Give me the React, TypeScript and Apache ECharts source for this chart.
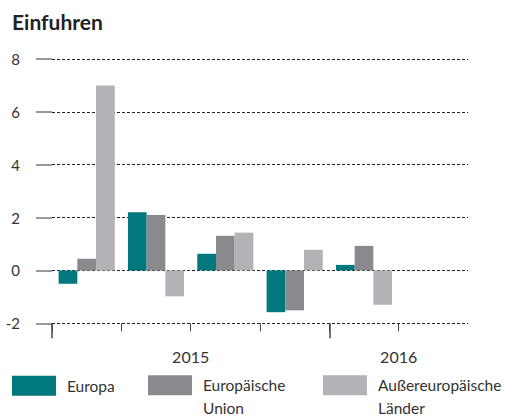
import React, { useEffect, useRef } from 'react';
import * as echarts from 'echarts';

const quarters = ['Q1 2015', 'Q2 2015', 'Q3 2015', 'Q4 2015', 'Q1 2016', 'Q2 2016'];
const boundaryLabels = ['', '', '2015', '', '', '2016', ''];
const yearStartBoundaries = [0, 4];
const europa = [-0.5, 2.2, 0.63, -1.58, 0.21, null];
const europaeischeUnion = [0.44, 2.1, 1.31, -1.51, 0.93, null];
const aussereuropaeisch = [7.0, -0.98, 1.43, 0.78, -1.3, null];
const seriesNames = ['Europa', 'Europäische Union', 'Außereuropäische Länder'];
const legendLabels = ['Europa', '\nEuropäische\nUnion', '\nAußereuropäische\nLänder'];
const colors = ['#00787E', '#898A8D', '#B2B3B6'];
const yMin = -2;
const yMax = 8;
const yInterval = 2;

const FONT = 'Lato, sans-serif';

export default function App() {
  const ref = useRef<HTMLDivElement>(null);
  useEffect(() => {
    if (!ref.current) return;
    const chart = echarts.init(ref.current, null, { renderer: 'svg' });
    const seriesData = [europa, europaeischeUnion, aussereuropaeisch];
    const legendLefts = [12, 148, 323];
    const legendTops = [374.5, 351.5, 351.5];
    const boundaryAxisBase = {
      type: 'category' as const,
      data: boundaryLabels,
      boundaryGap: false,
      position: 'bottom' as const,
      axisLine: { show: false },
      splitLine: { show: false },
    };
    chart.setOption({
      animation: false,
      title: {
        text: 'Einfuhren',
        left: 12,
        top: 11,
        padding: 0,
        textStyle: { fontFamily: FONT, fontSize: 21, fontWeight: 'bold', color: '#222' },
      },
      grid: { left: 52, right: 37, top: 59, bottom: 94.7, containLabel: false },
      legend: seriesNames.map((name, i) => ({
        data: [name],
        left: legendLefts[i],
        top: legendTops[i],
        padding: 0,
        icon: 'rect',
        itemWidth: 44,
        itemHeight: 20,
        selectedMode: false,
        formatter: () => legendLabels[i],
        textStyle: {
          fontFamily: FONT,
          fontSize: 15.5,
          color: '#333',
          lineHeight: 22.5,
          padding: [0, 0, 0, 6],
        },
      })),
      xAxis: [
        {
          type: 'category',
          data: quarters,
          position: 'bottom',
          axisLine: { show: false },
          axisTick: { show: false },
          axisLabel: { show: false },
        },
        {
          ...boundaryAxisBase,
          axisTick: {
            show: true,
            length: 8,
            interval: (idx: number) => idx < quarters.length,
            lineStyle: { color: '#444', width: 1 },
          },
          axisLabel: { show: false },
        },
        {
          ...boundaryAxisBase,
          axisTick: {
            show: true,
            length: 15,
            interval: (idx: number) => yearStartBoundaries.includes(idx),
            lineStyle: { color: '#444', width: 1.5 },
          },
          axisLabel: {
            show: true,
            interval: (idx: number) => boundaryLabels[idx] !== '',
            margin: 25,
            fontFamily: FONT,
            fontSize: 16,
            color: '#333',
          },
        },
      ],
      yAxis: {
        type: 'value',
        min: yMin,
        max: yMax,
        interval: yInterval,
        axisLine: { show: false },
        axisTick: { show: true, length: 16, lineStyle: { color: '#777', width: 1.5 } },
        axisLabel: { margin: 32, fontFamily: FONT, fontSize: 15, color: '#333', align: 'right' },
        splitLine: { show: true, lineStyle: { color: '#222', width: 1, type: [3, 2] } },
      },
      series: seriesNames.map((name, i) => ({
        name,
        type: 'bar',
        xAxisIndex: 0,
        data: seriesData[i],
        barWidth: 18.7,
        barGap: '0%',
        itemStyle: { color: colors[i] },
      })),
    });
    return () => chart.dispose();
  }, []);
  return (
    <div
      ref={ref}
      style={{ position: 'absolute', left: 0, top: 0, width: 505, height: 418 }}
    />
  );
}
